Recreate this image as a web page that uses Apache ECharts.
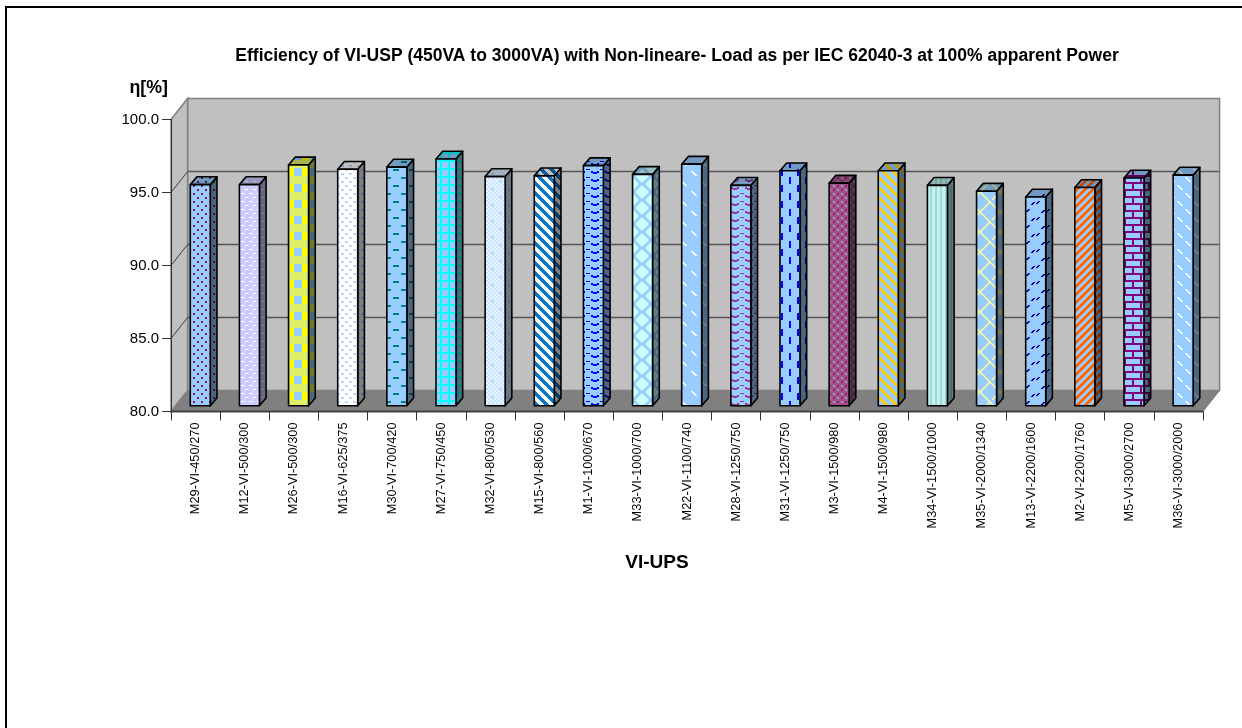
<!DOCTYPE html>
<html>
<head>
<meta charset="utf-8">
<title>VI-UPS efficiency</title>
<script src="https://cdn.jsdelivr.net/npm/echarts@6/dist/echarts.min.js"></script>
<style>
  html, body { margin: 0; padding: 0; background: #fff; }
  #chart { width: 1242px; height: 728px; }
</style>
</head>
<body>
<div id="chart"></div>
<script>
const categories = [
  'M29-VI-450/270', 'M12-VI-500/300', 'M26-VI-500/300', 'M16-VI-625/375',
  'M30-VI-700/420', 'M27-VI-750/450', 'M32-VI-800/530', 'M15-VI-800/560',
  'M1-VI-1000/670', 'M33-VI-1000/700', 'M22-VI-1100/740', 'M28-VI-1250/750',
  'M31-VI-1250/750', 'M3-VI-1500/980', 'M4-VI-1500/980', 'M34-VI-1500/1000',
  'M35-VI-2000/1340', 'M13-VI-2200/1600', 'M2-VI-2200/1760', 'M5-VI-3000/2700',
  'M36-VI-3000/2000'
];
const efficiency = [
  95.15, 95.15, 96.5, 96.2, 96.35, 96.9, 95.7, 95.75, 96.45, 95.85, 96.55,
  95.1, 96.1, 95.25, 96.1, 95.1, 94.7, 94.3, 94.95, 95.6, 95.8
];
const yTicks = [80, 85, 90, 95, 100];

const chartTitle = 'Efficiency of VI-USP (450VA to 3000VA) with Non-lineare- Load as per IEC 62040-3 at 100% apparent Power';
const yName = 'η[%]';
const xName = 'VI-UPS';

const SKY = '#99ccff';

// Small tile painters for the hatched bar fills.
function tile(w, h, back, paint) {
  const c = document.createElement('canvas');
  c.width = w; c.height = h;
  const g = c.getContext('2d');
  g.fillStyle = back;
  g.fillRect(0, 0, w, h);
  paint(g);
  return { image: c, repeat: 'repeat' };
}
function stagger(back, fore, w, h, dw, dh) {
  return tile(w, h, back, g => {
    g.fillStyle = fore;
    g.fillRect(1, 1, dw, dh);
    g.fillRect(1 + w / 2, 1 + h / 2, dw, dh);
  });
}
function diagonal(back, fore, period, thick, down) {
  return tile(period, period, back, g => {
    g.fillStyle = fore;
    for (let y = 0; y < period; y++) {
      for (let t = 0; t < thick; t++) {
        const x = down ? (y + t) % period : (period * 2 - y + t) % period;
        g.fillRect(x, y, 1, 1);
      }
    }
  });
}
function diagonalDash(back, fore, w, h, down) {
  return tile(w, h, back, g => {
    g.fillStyle = fore;
    const dash = (x0, y0) => {
      for (let k = 0; k < 5; k++) {
        const x = down ? x0 + k : x0 + 4 - k;
        g.fillRect(x, y0 + k, 2, 1);
      }
    };
    dash(1, 1);
    dash(1 + w / 2, 1 + h / 2);
  });
}
function pairedDash(back, fore) {
  return tile(20, 16, back, g => {
    g.fillStyle = fore;
    const dash = (x0, y0) => {
      g.fillRect(x0 + 2, y0, 2, 1);
      g.fillRect(x0 + 1, y0 + 1, 2, 1);
      g.fillRect(x0, y0 + 2, 2, 1);
    };
    dash(1, 2); dash(6, 1); dash(11, 10); dash(16, 9);
  });
}
// Scallops: solid along the trough, broken along the crest.
function wave(back, fore) {
  return tile(14, 8, back, g => {
    g.fillStyle = fore;
    [[3,3],[5,4],[7,4],[9,3]].forEach(p => g.fillRect(p[0], p[1], 2, 2));
    [[0,1],[12,1]].forEach(p => g.fillRect(p[0], p[1], 2, 1));
  });
}
function plaid() {
  return tile(16, 16, SKY, g => {
    g.fillStyle = '#ffff00';
    g.fillRect(0, 0, 6, 16);
    g.fillRect(14, 0, 2, 16);
    for (let y = 0; y < 8; y++) {
      for (let x = 0; x < 16; x++) {
        g.fillStyle = (x + y) % 2 ? '#ffff00' : '#bfe0d0';
        g.fillRect(x, y, 1, 1);
      }
    }
  });
}
function grid(back, fore) {
  return tile(8, 8, back, g => {
    g.fillStyle = fore;
    g.fillRect(0, 0, 8, 2);
    g.fillRect(0, 0, 2, 8);
  });
}
function fineCheck() {
  return tile(16, 16, '#e8f4ff', g => {
    g.fillStyle = '#c8e4ff';
    for (let y = 0; y < 16; y += 2) {
      for (let x = 0; x < 16; x += 2) {
        if ((x + y) % 4) g.fillRect(x, y, 2, 2);
      }
    }
    g.fillStyle = '#b0d8ff';
    g.fillRect(3, 5, 3, 1); g.fillRect(4, 4, 1, 3);
    g.fillRect(11, 13, 3, 1); g.fillRect(12, 12, 1, 3);
  });
}
function diamonds() {
  return tile(20, 16, SKY, g => {
    g.fillStyle = '#ccffff';
    const d = (cx, cy) => {
      g.beginPath();
      g.moveTo(cx, cy - 7); g.lineTo(cx + 7, cy); g.lineTo(cx, cy + 7); g.lineTo(cx - 7, cy);
      g.closePath(); g.fill();
    };
    d(2, 0); d(22, 0); d(2, 16); d(22, 16); d(12, 8);
  });
}
function verticalDash(back, fore) {
  return tile(16, 16, back, g => {
    g.fillStyle = fore;
    g.fillRect(5, 1, 2, 7);
    g.fillRect(13, 9, 2, 7);
  });
}
function crossWeave() {
  return tile(8, 8, '#a8508a', g => {
    g.fillStyle = '#8fa0d0';
    [[1,1],[5,5]].forEach(p => { g.fillRect(p[0], p[1], 2, 2); });
    g.fillStyle = '#8e2a68';
    [[5,1],[1,5]].forEach(p => { g.fillRect(p[0], p[1], 2, 2); });
  });
}
function verticalLines() {
  return tile(5, 4, '#c4f4e4', g => {
    g.fillStyle = '#a0d4e4';
    g.fillRect(0, 0, 2, 4);
  });
}
function trellis() {
  return tile(20, 20, SKY, g => {
    g.strokeStyle = '#ffff99';
    g.lineWidth = 1.5;
    g.beginPath();
    g.moveTo(0, 12); g.lineTo(10, 2); g.lineTo(20, 12);
    g.moveTo(10, 2); g.lineTo(2, -6);
    g.moveTo(0, 12); g.lineTo(8, 20);
    g.moveTo(20, 12); g.lineTo(12, 20);
    g.stroke();
  });
}
function bricks() {
  return tile(16, 14, SKY, g => {
    g.fillStyle = '#800080';
    g.fillRect(0, 0, 16, 2);
    g.fillRect(0, 7, 16, 2);
    g.fillRect(12, 0, 2, 7);
    g.fillRect(4, 7, 2, 7);
  });
}

const barFills = [
  stagger(SKY, '#8b1a4b', 8, 8, 2, 2),
  stagger('#ccccff', '#ffffff', 8, 8, 4, 1),
  plaid(),
  stagger('#ffffff', '#b4d9ff', 8, 8, 3, 2),
  stagger(SKY, '#008080', 16, 16, 6, 2),
  grid(SKY, '#00ffff'),
  fineCheck(),
  diagonal('#ffffff', '#0a78c8', 10, 5, true),
  wave(SKY, '#0000ff'),
  diamonds(),
  diagonalDash(SKY, '#ffffff', 20, 20, true),
  wave(SKY, '#993399'),
  verticalDash(SKY, '#0000ff'),
  crossWeave(),
  diagonal(SKY, '#ffcc00', 10, 4, true),
  verticalLines(),
  trellis(),
  pairedDash(SKY, '#000099'),
  diagonal(SKY, '#ff6600', 8, 4, false),
  bricks(),
  diagonalDash(SKY, '#ffffff', 16, 16, true)
];

// Oblique offsets of the plot box and of each bar within it.
const BOX_DX = 16.6, BOX_DY = -21;
const BAR_NUDGE_X = 4.7, BAR_NUDGE_Y = -5.7;
const BAR_W = 20, BAR_DX = 6.7, BAR_DY = -7.8;

function poly(points, style, z2) {
  return { type: 'polygon', shape: { points }, style, z2: z2 || 0, silent: true };
}
function seg(x1, y1, x2, y2, stroke, lineWidth, z2) {
  return {
    type: 'line', silent: true, z2: z2 || 0,
    shape: { x1, y1, x2, y2 },
    style: { stroke, lineWidth }
  };
}

// Back wall, side wall, floor and the gridlines that wrap around them.
function renderBox(params, api) {
  const band = api.size([1, 0])[0];
  const xL = api.coord([0, 80])[0] - band / 2;
  const xR = api.coord([categories.length - 1, 80])[0] + band / 2;
  const yFloor = api.coord([0, 80])[1];
  const yTop = api.coord([0, 100])[1];
  const edge = { stroke: '#808080', lineWidth: 1.5 };
  const children = [
    poly([[xL + BOX_DX, yTop + BOX_DY], [xR + BOX_DX, yTop + BOX_DY], [xR + BOX_DX, yFloor + BOX_DY], [xL + BOX_DX, yFloor + BOX_DY]],
      Object.assign({ fill: '#c0c0c0' }, edge)),
    poly([[xL, yTop], [xL + BOX_DX, yTop + BOX_DY], [xL + BOX_DX, yFloor + BOX_DY], [xL, yFloor]],
      Object.assign({ fill: '#c0c0c0' }, edge)),
    poly([[xL, yFloor], [xL + BOX_DX, yFloor + BOX_DY], [xR + BOX_DX, yFloor + BOX_DY], [xR, yFloor]],
      { fill: '#808080', stroke: '#808080', lineWidth: 1 })
  ];
  yTicks.forEach(t => {
    if (t === 80 || t === 100) return;
    const y = api.coord([0, t])[1];
    children.push(seg(xL, y, xL + BOX_DX, y + BOX_DY, '#3f3f3f', 1));
    children.push(seg(xL + BOX_DX, y + BOX_DY, xR + BOX_DX, y + BOX_DY, '#555555', 1.5));
  });
  children.push(seg(xL, yFloor, xR, yFloor, '#404040', 2, 1));
  return { type: 'group', children };
}

// One oblique bar: front face, roof and right side, shaded over a shared fill.
function renderBar(params, api) {
  const i = api.value(0);
  const base = api.coord([i, 80]);
  const top = api.coord([i, api.value(1)]);
  const x0 = base[0] - BAR_W / 2 + BAR_NUDGE_X;
  const x1 = x0 + BAR_W;
  const yb = base[1] + BAR_NUDGE_Y;
  const yt = top[1] + BAR_NUDGE_Y;
  const fill = barFills[i];
  const side = [[x1, yt], [x1 + BAR_DX, yt + BAR_DY], [x1 + BAR_DX, yb + BAR_DY], [x1, yb]];
  const roof = [[x0, yt], [x0 + BAR_DX, yt + BAR_DY], [x1 + BAR_DX, yt + BAR_DY], [x1, yt]];
  const front = [[x0, yt], [x1, yt], [x1, yb], [x0, yb]];
  const line = { stroke: '#000', lineWidth: 1.6, lineJoin: 'round' };
  return {
    type: 'group',
    children: [
      poly(side, { fill }),
      poly(side, Object.assign({ fill: 'rgba(0,0,0,0.5)' }, line)),
      poly(roof, { fill }),
      poly(roof, Object.assign({ fill: 'rgba(0,0,0,0.25)' }, line)),
      poly(front, Object.assign({ fill }, line))
    ]
  };
}

const textFont = '"Liberation Sans", Arial, sans-serif';
const chart = echarts.init(document.getElementById('chart'), null, { renderer: 'canvas' });
chart.setOption({
  animation: false,
  backgroundColor: '#ffffff',
  textStyle: { fontFamily: textFont },
  title: {
    text: chartTitle,
    left: 672, top: 42, textAlign: 'center',
    textStyle: { fontFamily: textFont, fontSize: 17.5, fontWeight: 'bold', color: '#000' }
  },
  grid: { left: 171, right: 39, top: 119.5, height: 292 },
  xAxis: {
    type: 'category',
    data: categories,
    boundaryGap: true,
    name: xName,
    nameLocation: 'middle',
    nameGap: 142,
    nameTextStyle: { fontFamily: textFont, fontSize: 19, fontWeight: 'bold', color: '#000', padding: [0, 60, 0, 0] },
    axisLine: { lineStyle: { color: '#404040', width: 1 } },
    axisTick: { show: true, alignWithLabel: false, length: 9, lineStyle: { color: '#333', width: 1 } },
    axisLabel: { rotate: 90, interval: 0, margin: 11, fontSize: 12.8, color: '#000', fontFamily: textFont },
    splitLine: { show: false },
    z: 3
  },
  yAxis: {
    type: 'value',
    min: 80, max: 100, interval: 5,
    name: yName,
    nameLocation: 'end',
    nameGap: 22,
    nameTextStyle: { fontFamily: textFont, fontSize: 17.8, fontWeight: 'bold', color: '#000', align: 'right', verticalAlign: 'bottom', padding: [0, 3, 0, 0] },
    axisLine: { show: true, lineStyle: { color: '#333', width: 1 } },
    axisTick: { show: true, length: 9, lineStyle: { color: '#333', width: 1 } },
    axisLabel: { margin: 12, fontSize: 15, color: '#000', fontFamily: textFont, formatter: v => v.toFixed(1) },
    splitLine: { show: false },
    z: 3
  },
  graphic: [{
    type: 'polyline',
    shape: { points: [[6, 728], [6, 7], [1242, 7]] },
    style: { stroke: '#000', lineWidth: 2, fill: 'none' },
    silent: true
  }],
  series: [
    {
      type: 'custom',
      name: 'box',
      clip: false,
      silent: true,
      z: 1,
      data: [0],
      encode: { x: 0 },
      renderItem: renderBox
    },
    {
      type: 'custom',
      name: 'Efficiency',
      clip: false,
      silent: true,
      z: 2,
      data: efficiency.map((v, i) => [i, v]),
      encode: { x: 0, y: 1 },
      renderItem: renderBar
    }
  ]
});
</script>
</body>
</html>
